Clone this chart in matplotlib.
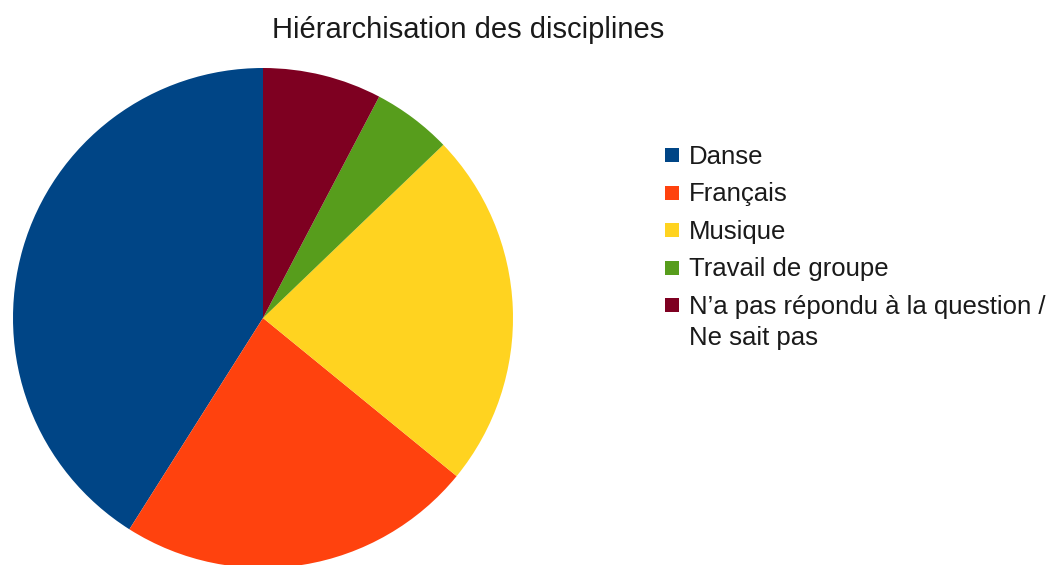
import matplotlib
matplotlib.use("Agg")
import matplotlib.pyplot as plt
from matplotlib.patches import Rectangle

plt.rcParams['font.family'] = ['Liberation Sans', 'DejaVu Sans']

categories = ["Danse", "Français", "Musique", "Travail de groupe",
              "N’a pas répondu à la question /\nNe sait pas"]
values = [16, 9, 9, 2, 3]
colors = ["#004586", "#ff420e", "#ffd320", "#579d1c", "#7e0021"]
title = "Hiérarchisation des disciplines"

W, H = 1049, 565
fig = plt.figure(figsize=(W / 100, H / 100), dpi=100)
cx, cy, r = 263, 318, 250
ax = fig.add_axes([(cx - r) / W, (H - cy - r) / H, 2 * r / W, 2 * r / H])
wedges, _ = ax.pie(values, colors=colors, startangle=90, counterclock=True,
                   radius=1, wedgeprops=dict(linewidth=0))
ax.set_xlim(-1, 1)
ax.set_ylim(-1, 1)
ax.set_aspect('equal')
ax.axis('off')
for w in wedges:
    w.set_clip_on(False)

fig.text(468.5 / W, 1 - 38 / H, title, ha='center', va='baseline', fontsize=21, color='#1a1a1a')

# manual legend (pixel layout)
x_sq, sq = 665, 14
x_txt = 689
base0, step = 160, 37.5
for i, (lab, col) in enumerate(zip(categories, colors)):
    base = base0 + i * step
    fig.add_artist(Rectangle((x_sq / W, 1 - (base + 2) / H), sq / W, sq / H,
                             transform=fig.transFigure, facecolor=col, edgecolor='none'))
    fig.text(x_txt / W, 1 - (base - 15.5) / H, lab, ha='left', va='top',
             fontsize=18.5, color='#1a1a1a', linespacing=1.38)

fig.savefig("out.png", dpi=100)
